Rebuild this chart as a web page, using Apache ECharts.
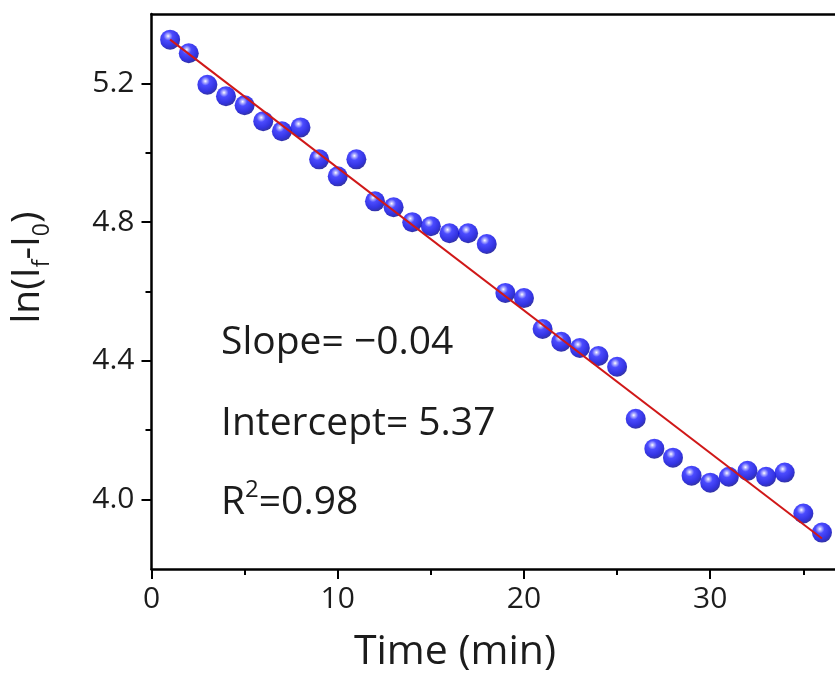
<!DOCTYPE html>
<html>
<head>
<meta charset="utf-8">
<script src="https://cdn.jsdelivr.net/npm/echarts@6/dist/echarts.min.js"></script>
<style>
html,body{margin:0;padding:0;background:#fff;}
#chart{width:835px;height:673px;}
</style>
</head>
<body>
<div id="chart"></div>
<script>
// Data
const timeMin = [1,2,3,4,5,6,7,8,9,10,11,12,13,14,15,16,17,18,19,20,21,22,23,24,25,26,27,28,29,30,31,32,33,34,35,36];
const lnValues = [5.326,5.287,5.196,5.163,5.137,5.091,5.062,5.073,4.981,4.932,4.981,4.860,4.843,4.800,4.788,4.768,4.768,4.737,4.596,4.581,4.492,4.455,4.437,4.414,4.383,4.233,4.147,4.121,4.069,4.049,4.066,4.083,4.066,4.078,3.960,3.905];
const fitX = [1, 36];
const fitY = [5.326, 3.888];
const xTickLabels = [0, 10, 20, 30];
const xMinorTicks = [5, 15, 25, 35];
const yTickLabels = [4.0, 4.4, 4.8, 5.2];
const yMinorTicks = [4.2, 4.6, 5.0];
const annotations = ['Slope= \u22120.04', 'Intercept= 5.37', 'R\u00b2=0.98'];

const FONT = '"Open Sans", "Noto Sans", sans-serif';
const TXT = '#1c1c1c';
const chart = echarts.init(document.getElementById('chart'), null, {renderer: 'canvas'});

const scatterData = timeMin.map((t, i) => [t, lnValues[i]]);
const fitData = fitX.map((t, i) => [t, fitY[i]]);

const ballColor = new echarts.graphic.RadialGradient(0.4, 0.32, 0.7, [
  {offset: 0, color: '#ffffff'},
  {offset: 0.12, color: '#a0a0ff'},
  {offset: 0.32, color: '#1e1eff'},
  {offset: 0.75, color: '#0000d8'},
  {offset: 1, color: '#000088'}
]);

const option = {
  backgroundColor: '#fff',
  animation: false,
  grid: {left: 150, top: 14, bottom: 104, right: 0, show: false, containLabel: false},
  xAxis: [
    {
      type: 'value', min: 0, max: 36.7, interval: 10,
      axisLine: {show: true, onZero: false, lineStyle: {color: '#000', width: 2.5}},
      axisTick: {show: true, inside: false, length: 10, lineStyle: {color: '#000', width: 2}, customValues: xTickLabels},
      axisLabel: {show: true, margin: 15, fontSize: 30, fontFamily: FONT, color: TXT, customValues: xTickLabels},
      splitLine: {show: false}
    },
    {
      type: 'value', min: 0, max: 36.7, interval: 10, position: 'bottom',
      axisLine: {show: false},
      axisTick: {show: true, inside: false, length: 6, lineStyle: {color: '#000', width: 2}, customValues: xMinorTicks},
      axisLabel: {show: false},
      splitLine: {show: false}
    },
    {
      type: 'value', min: 0, max: 36.7, interval: 10, position: 'top',
      axisLine: {show: true, onZero: false, lineStyle: {color: '#000', width: 2.5}},
      axisTick: {show: false},
      axisLabel: {show: false},
      splitLine: {show: false}
    }
  ],
  yAxis: [
    {
      type: 'value', min: 3.8, max: 5.4, interval: 0.2,
      name: '{a|ln(I}{s|f}{a|-I}{s|0}{a|)}',
      nameLocation: 'middle', nameRotate: 90, nameGap: 98,
      nameTextStyle: {
        padding: [0, 0, 0, 48],
        rich: {
          a: {fontSize: 39, fontFamily: FONT, color: TXT, lineHeight: 52},
          s: {fontSize: 23, fontFamily: FONT, color: TXT, lineHeight: 16, verticalAlign: 'bottom'}
        }
      },
      axisLine: {show: true, onZero: false, lineStyle: {color: '#000', width: 2.5}},
      axisTick: {show: true, inside: false, length: 10, lineStyle: {color: '#000', width: 2}, customValues: yTickLabels},
      axisLabel: {show: true, margin: 17, fontSize: 30, fontFamily: FONT, color: TXT, customValues: yTickLabels,
        formatter: v => v.toFixed(1)},
      splitLine: {show: false}
    },
    {
      type: 'value', min: 3.8, max: 5.4, interval: 0.2, position: 'left',
      axisLine: {show: false},
      axisTick: {show: true, inside: false, length: 6, lineStyle: {color: '#000', width: 2}, customValues: yMinorTicks},
      axisLabel: {show: false},
      splitLine: {show: false}
    }
  ],
  graphic: [
    {type: 'text', x: 455, y: 652, style: {text: 'Time (min)', font: '41px ' + FONT, fill: TXT, align: 'center', verticalAlign: 'middle'}},
    {type: 'text', x: 221, y: 343, style: {text: annotations[0], font: '39px ' + FONT, fill: TXT, align: 'left', verticalAlign: 'middle'}},
    {type: 'text', x: 221, y: 424, style: {text: annotations[1], font: '39px ' + FONT, fill: TXT, align: 'left', verticalAlign: 'middle'}},
    {type: 'text', x: 221, y: 503, style: {
      text: '{a|R}{p|2}{a|=0.98}',
      align: 'left', verticalAlign: 'middle',
      rich: {
        a: {fontSize: 39, fontFamily: FONT, fill: TXT, color: TXT, lineHeight: 50},
        p: {fontSize: 24, fontFamily: FONT, fill: TXT, color: TXT, lineHeight: 30, verticalAlign: 'top'}
      }
    }}
  ],
  series: [
    {
      type: 'line', data: fitData, xAxisIndex: 0, yAxisIndex: 0,
      showSymbol: false, symbol: 'none',
      lineStyle: {color: '#d01818', width: 2},
      z: 3
    },
    {
      type: 'scatter', data: scatterData, xAxisIndex: 0, yAxisIndex: 0,
      symbol: 'circle', symbolSize: 20,
      itemStyle: {color: ballColor},
      z: 2
    }
  ]
};
chart.setOption(option);
</script>
</body>
</html>
